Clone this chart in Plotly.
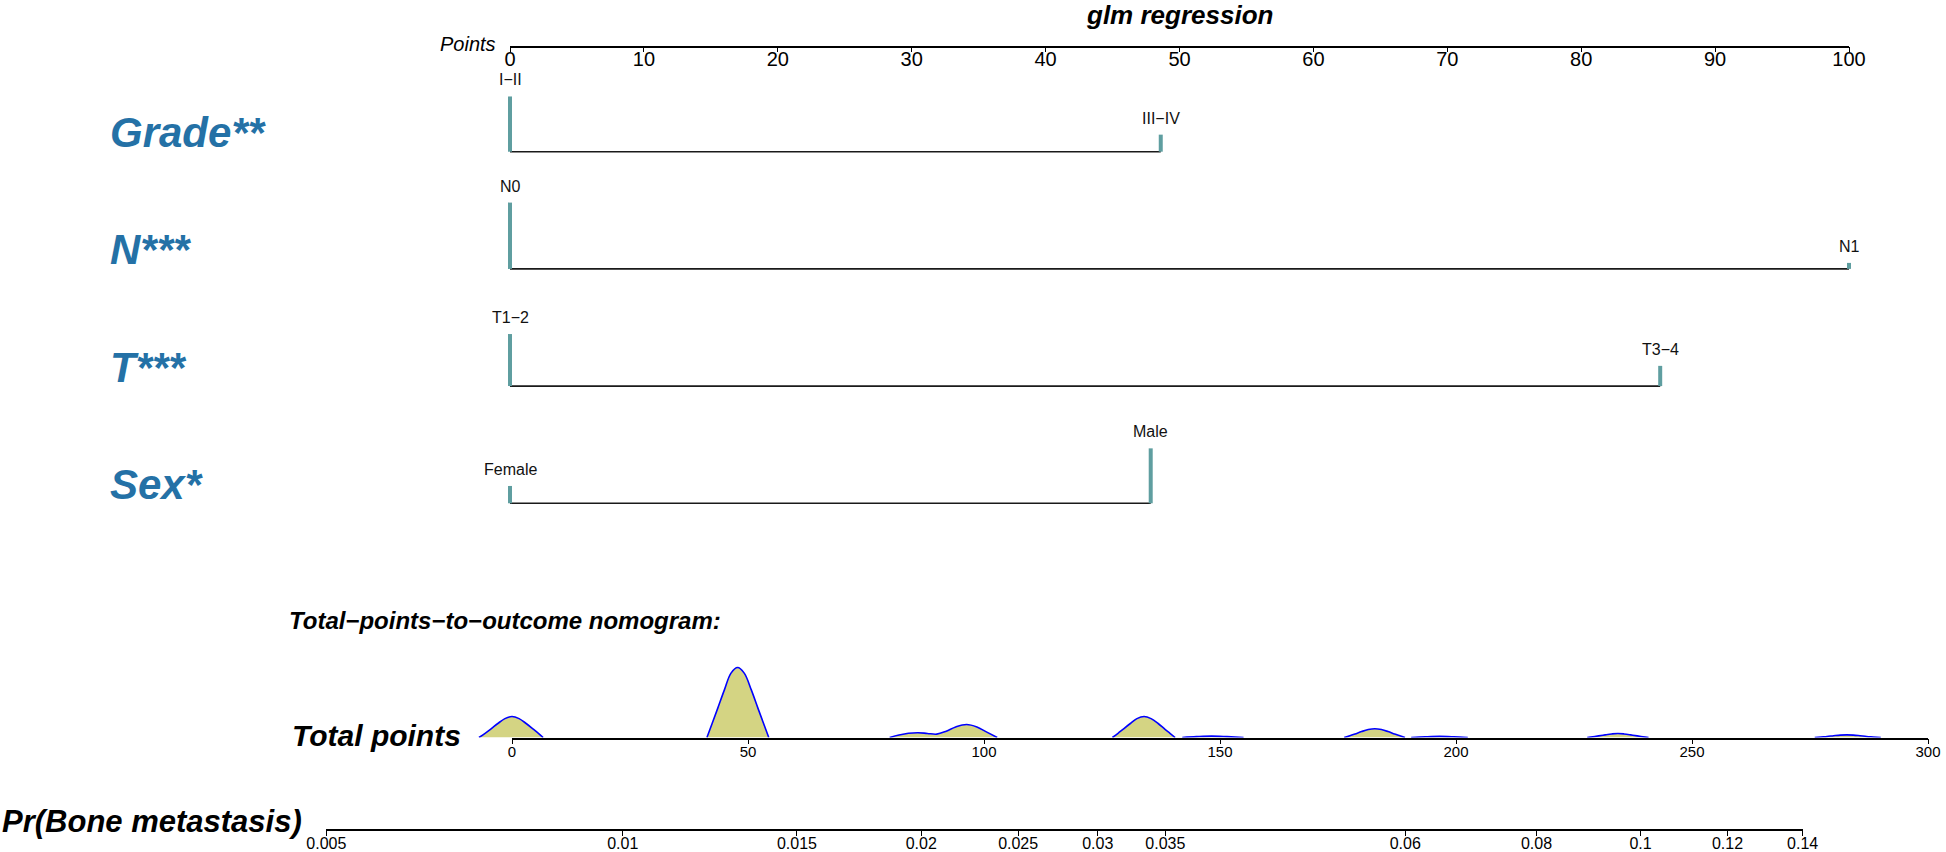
import math
import plotly.graph_objects as go

W, H = 1946, 852

# ------------------------------------------------------------------ data
variables = ["Grade**", "N***", "T***", "Sex*"]

grade_levels = ["I\u2212II", "III\u2212IV"]
grade_points = [0, 48.6]
grade_freq = [0.764, 0.236]

n_levels = ["N0", "N1"]
n_points = [0, 100]
n_freq = [0.917, 0.083]

t_levels = ["T1\u22122", "T3\u22124"]
t_points = [0, 85.9]
t_freq = [0.72, 0.28]

sex_levels = ["Female", "Male"]
sex_points = [0, 47.85]
sex_freq = [0.24, 0.76]

points_ticks = [0, 10, 20, 30, 40, 50, 60, 70, 80, 90, 100]
total_ticks = [0, 50, 100, 150, 200, 250, 300]
prob_ticks = [0.005, 0.01, 0.015, 0.02, 0.025, 0.03, 0.035, 0.06, 0.08, 0.1, 0.12, 0.14]
prob_labels = ["0.005", "0.01", "0.015", "0.02", "0.025", "0.03", "0.035",
               "0.06", "0.08", "0.1", "0.12", "0.14"]

# linear predictor = lp_intercept + lp_per_point * total points
lp_intercept = -4.856
lp_per_point = 0.01112

# density of total points (relative height)
hump_tp = [
    [-7.0, -5.7, -4.5, -3.0, -1.5, 0.0, 1.5, 3.0, 4.5, 5.6, 6.6],
    [41.3, 42.4, 43.6, 45.0, 46.4, 47.8, 49.2, 50.7, 52.1, 53.3, 54.4],
    [80.0, 82.0, 84.0, 86.0, 88.0, 90.0, 92.0, 94.0, 96.3, 98.5, 100.5, 102.8],
    [127.2, 128.4, 129.5, 131.0, 132.4, 133.9, 135.4, 136.9, 138.3, 139.4, 140.5],
    [142.0, 145.0, 148.2, 151.5, 155.0],
    [176.3, 177.5, 178.6, 180.0, 181.4, 182.8, 184.2, 185.6, 187.0, 188.1, 189.2],
    [190.5, 193.5, 196.5, 199.5, 202.5],
    [227.8, 229.0, 230.2, 231.6, 233.0, 234.3, 235.6, 237.0, 238.4, 239.6, 240.8],
    [276.0, 277.3, 278.6, 280.0, 281.4, 282.8, 284.2, 285.6, 287.0, 288.4, 290.0],
]
hump_density = [
    [0, 0.06, 0.12, 0.20, 0.27, 0.30, 0.27, 0.20, 0.12, 0.06, 0],
    [0, 0.20, 0.42, 0.68, 0.92, 1.00, 0.92, 0.68, 0.42, 0.20, 0],
    [0, 0.035, 0.060, 0.068, 0.058, 0.048, 0.090, 0.150, 0.185, 0.150, 0.080, 0],
    [0, 0.06, 0.12, 0.20, 0.27, 0.30, 0.27, 0.20, 0.12, 0.06, 0],
    [0, 0.012, 0.020, 0.012, 0],
    [0, 0.025, 0.050, 0.085, 0.113, 0.125, 0.113, 0.085, 0.050, 0.025, 0],
    [0, 0.010, 0.016, 0.010, 0],
    [0, 0.011, 0.023, 0.038, 0.051, 0.057, 0.051, 0.038, 0.023, 0.011, 0],
    [0, 0.008, 0.015, 0.025, 0.034, 0.038, 0.034, 0.025, 0.015, 0.008, 0],
]

# ------------------------------------------------------------------ layout constants
FONT = "Liberation Sans, Arial, Helvetica, sans-serif"
PTS_PX = (510, 1849)      # pixel x of 0 and 100 points
TOT_PX = (512, 1928)      # pixel x of 0 and 300 total points
ROW0_PY, ROW_STEP = 151.7, 117.2
SPIKE_PX = 72.3
POINTS_AXIS_PY = 46.5
TOTAL_AXIS_PY = 737.5
PR_AXIS_PY = 830
DENS_PX = 70.0
ROW_LABEL_COLOR = "#2471A6"
SPIKE_COLOR = "#5F9EA0"


def span_range(v0, v1, p0, p1):
    s = (v1 - v0) / (p1 - p0)
    return [v0 - p0 * s, v0 + (W - p0) * s]


def tot_px(tp):
    return TOT_PX[0] + tp * (TOT_PX[1] - TOT_PX[0]) / 300.0


def tp_of_prob(p):
    return (math.log(p / (1 - p)) - lp_intercept) / lp_per_point


fig = go.Figure()

# dummy traces so that the visible axes are drawn
inv = dict(mode="markers", marker=dict(opacity=0, size=1), hoverinfo="skip", showlegend=False)
fig.add_trace(go.Scatter(x=[0, 100], y=[0, 0], xaxis="x", yaxis="y", **inv))

# ---- rows
rows = [
    (grade_levels, grade_points, grade_freq),
    (n_levels, n_points, n_freq),
    (t_levels, t_points, t_freq),
    (sex_levels, sex_points, sex_freq),
]
annotations = []
spike_unit = SPIKE_PX / ROW_STEP
for i, (levels, pts, freq) in enumerate(rows):
    fig.add_trace(go.Scatter(x=[min(pts), max(pts)], y=[i, i], xaxis="x2", yaxis="y2",
                             mode="lines", line=dict(color="#1a1a1a", width=1.6),
                             hoverinfo="skip", showlegend=False))
    sx, sy = [], []
    for p, f in zip(pts, freq):
        sx += [p, p, None]
        sy += [i, i - f * spike_unit, None]
    fig.add_trace(go.Scatter(x=sx, y=sy, xaxis="x2", yaxis="y2", mode="lines",
                             line=dict(color=SPIKE_COLOR, width=4),
                             hoverinfo="skip", showlegend=False))
    for lev, p, f in zip(levels, pts, freq):
        annotations.append(dict(x=p, y=i - f * spike_unit, xref="x2", yref="y2",
                                text=lev, showarrow=False, yanchor="middle", xanchor="center",
                                yshift=16.5, font=dict(family=FONT, size=16, color="#111111")))
    annotations.append(dict(x=108 / W, y=i, xref="paper", yref="y2", text=f"<b><i>{variables[i]}</i></b>",
                            showarrow=False, xanchor="left", yanchor="middle", yshift=19,
                            font=dict(family=FONT, size=42, color=ROW_LABEL_COLOR)))

# ---- density
for tp, dens in zip(hump_tp, hump_density):
    fig.add_trace(go.Scatter(x=tp, y=dens, xaxis="x3", yaxis="y3", mode="lines",
                             line=dict(color="#0000FF", width=1.6, shape="spline", smoothing=1.0),
                             fill="tozeroy", fillcolor="#D4D483",
                             hoverinfo="skip", showlegend=False))
fig.add_trace(go.Scatter(x=[0, 300], y=[0, 0], xaxis="x4", yaxis="y3", **inv))

tp0, tp1 = tp_of_prob(prob_ticks[0]), tp_of_prob(prob_ticks[-1])
fig.add_trace(go.Scatter(x=[tp0, tp1], y=[0, 0], xaxis="x5", yaxis="y", **inv))

# ---- text
annotations += [
    dict(x=(PTS_PX[0] + PTS_PX[1]) / 2 / W, y=1 - 15 / H, xref="paper", yref="paper",
         text="<b><i>glm regression</i></b>", showarrow=False, xanchor="center", yanchor="middle",
         font=dict(family=FONT, size=26, color="black")),
    dict(x=498 / W, y=1 - 44 / H, xref="paper", yref="paper", text="<i>Points</i>",
         showarrow=False, xanchor="right", yanchor="middle",
         font=dict(family=FONT, size=20, color="black")),
    dict(x=287 / W, y=1 - 620 / H, xref="paper", yref="paper",
         text="<b><i>Total\u2212points\u2212to\u2212outcome nomogram:</i></b>",
         showarrow=False, xanchor="left", yanchor="middle",
         font=dict(family=FONT, size=24, color="black")),
    dict(x=463 / W, y=1 - 735 / H, xref="paper", yref="paper", text="<b><i>Total points</i></b>",
         showarrow=False, xanchor="right", yanchor="middle",
         font=dict(family=FONT, size=30, color="black")),
    dict(x=0, y=1 - 821 / H, xref="paper", yref="paper", text="<b><i>Pr(Bone metastasis)</i></b>",
         showarrow=False, xanchor="left", yanchor="middle",
         font=dict(family=FONT, size=31, color="black")),
]

axis_common = dict(showgrid=False, zeroline=False, showline=True, linecolor="black",
                   ticks="outside", tickcolor="black", tickwidth=1, ticklen=5, automargin=False)
hidden = dict(visible=False, showgrid=False, zeroline=False, automargin=False)

fig.update_layout(
    template="none",
    width=W, height=H, margin=dict(l=0, r=0, t=0, b=0, pad=0, autoexpand=False),
    paper_bgcolor="white", plot_bgcolor="rgba(0,0,0,0)", showlegend=False,
    font=dict(family=FONT, color="black"),
    annotations=annotations,
    xaxis=dict(domain=[PTS_PX[0] / W, PTS_PX[1] / W], range=[0, 100], anchor="free",
               position=1 - POINTS_AXIS_PY / H, side="bottom", tickvals=points_ticks,
               linewidth=1.6, ticklabelstandoff=-10,
               tickfont=dict(family=FONT, size=20, color="black"), **axis_common),
    yaxis=dict(domain=[0, 1], range=[0, 1], anchor="x", **hidden),
    xaxis2=dict(domain=[0, 1], range=span_range(0, 100, PTS_PX[0], PTS_PX[1]), anchor="y2", **hidden),
    yaxis2=dict(domain=[0, 1], range=[(H - ROW0_PY) / ROW_STEP, -ROW0_PY / ROW_STEP], anchor="x2", **hidden),
    xaxis3=dict(domain=[0, 1], range=span_range(0, 300, TOT_PX[0], TOT_PX[1]), anchor="y3", **hidden),
    yaxis3=dict(domain=[1 - TOTAL_AXIS_PY / H, 1 - (TOTAL_AXIS_PY - DENS_PX * 1.1) / H],
                range=[0, 1.1], anchor="x3", **hidden),
    xaxis4=dict(domain=[TOT_PX[0] / W, TOT_PX[1] / W], range=[0, 300], anchor="y3",
                tickvals=total_ticks, linewidth=1.6, ticklabelstandoff=-5,
                tickfont=dict(family=FONT, size=15, color="black"), **axis_common),
    xaxis5=dict(domain=[tot_px(tp0) / W, tot_px(tp1) / W], range=[tp0, tp1], anchor="free",
                position=1 - PR_AXIS_PY / H, side="bottom",
                tickvals=[tp_of_prob(p) for p in prob_ticks], ticktext=prob_labels,
                linewidth=1.6, ticklabelstandoff=-6,
                tickfont=dict(family=FONT, size=16, color="black"), **axis_common),
)

fig.write_html(
    "out.html",
    config={"displayModeBar": False},
    post_script="document.body.style.margin='0';document.body.style.padding='0';"
                "document.body.style.overflow='hidden';",
)
